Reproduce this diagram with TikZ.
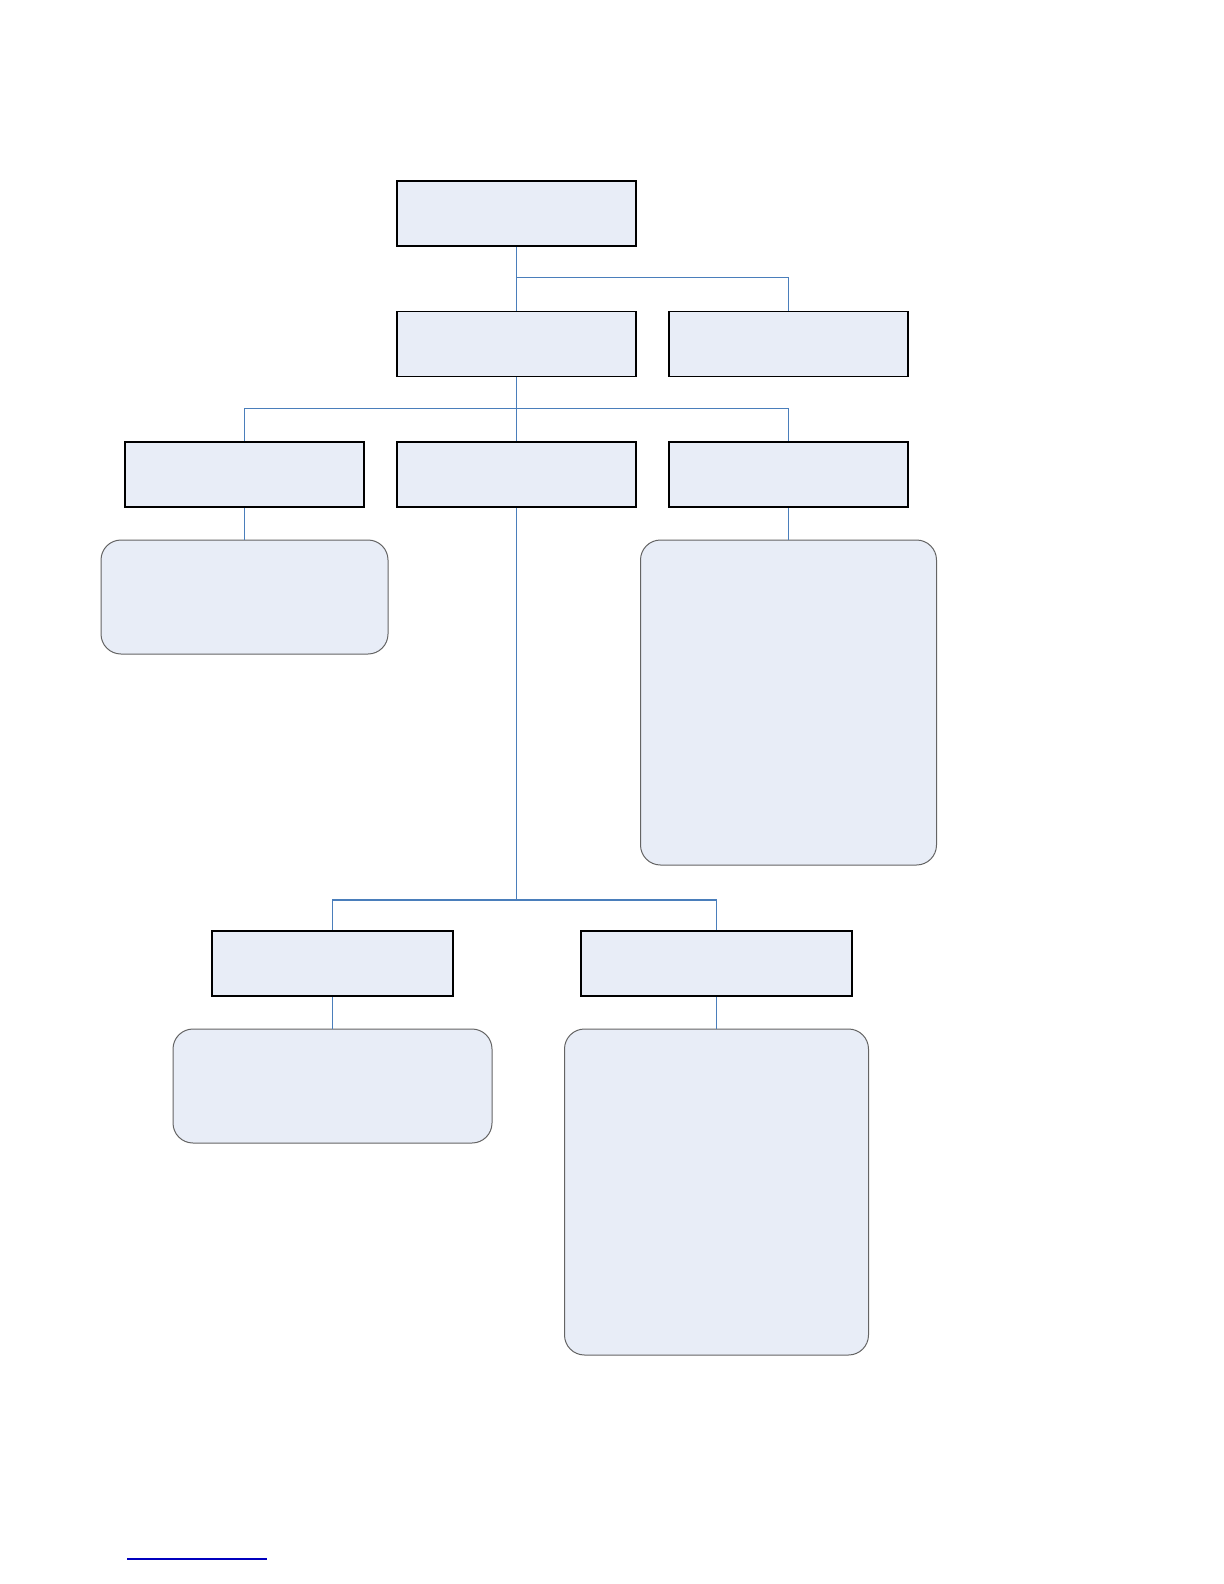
\documentclass[tikz,border=0pt]{standalone}
\usepackage{tikz}
\usetikzlibrary{calc}
\usepackage{xcolor}

\definecolor{boxfill}{RGB}{232,237,247}
\definecolor{linkblue}{RGB}{74,126,187}
\definecolor{notegray}{RGB}{100,100,100}
\definecolor{footblue}{RGB}{0,0,190}

\begin{document}
\begin{tikzpicture}[x=0.5pt,y=-0.5pt,
unit/.style={rectangle,draw=black,line width=0.75pt,fill=boxfill,minimum width=119.5pt,minimum height=32.5pt,inner sep=0pt},
note/.style={rectangle,rounded corners=10pt,draw=notegray,line width=0.5pt,fill=boxfill,inner sep=0pt},
link/.style={draw=linkblue,line width=0.6pt}]
\useasboundingbox (0,0) rectangle (1224,1584);
%\tikzstyle{every node}=[rectangle,draw]

\node[unit] (Root) at (516.5,213.5) {};
\node[unit] (Dept) at (516.5,344) {};
\node[unit] (Side) at (788.5,344) {};
\node[unit] (Left) at (244.5,474.5) {};
\node[unit] (Mid) at (516.5,474.5) {};
\node[unit] (Right) at (788.5,474.5) {};
\node[note,minimum width=143.5pt,minimum height=57pt] (LeftNote) at (244.5,597) {};
\node[note,minimum width=148pt,minimum height=162.5pt] (RightNote) at (788.5,702.5) {};
\node[unit,minimum width=120.5pt] (SubA) at (332.5,963.5) {};
\node[unit,minimum width=135.5pt] (SubB) at (716.5,963.5) {};
\node[note,minimum width=159.5pt,minimum height=57pt] (SubANote) at (332.5,1086) {};
\node[note,minimum width=152pt,minimum height=163pt] (SubBNote) at (716.5,1192) {};

% connectors
\draw[link] (Root.south) -- (Dept.north);
\draw[link] (Root.south) ++(0,31) -| (Side.north);
\draw[link] (Dept.south) -- (Mid.north);
\draw[link] (Dept.south) ++(0,31) -| (Left.north);
\draw[link] (Dept.south) ++(0,31) -| (Right.north);
\draw[link] (Left.south) -- (LeftNote.north);
\draw[link] (Right.south) -- (RightNote.north);
\coordinate (split) at (516.5,900);
\draw[link] (Mid.south) -- (split) -| (SubA.north);
\draw[link] (split) -| (SubB.north);
\draw[link] (SubA.south) -- (SubANote.north);
\draw[link] (SubB.south) -- (SubBNote.north);

% footnote rule
\coordinate (footL) at (127,1559);
\coordinate (footR) at (267,1559);
\draw[footblue,line width=0.6pt] (footL) -- (footR);
\end{tikzpicture}
\end{document}
